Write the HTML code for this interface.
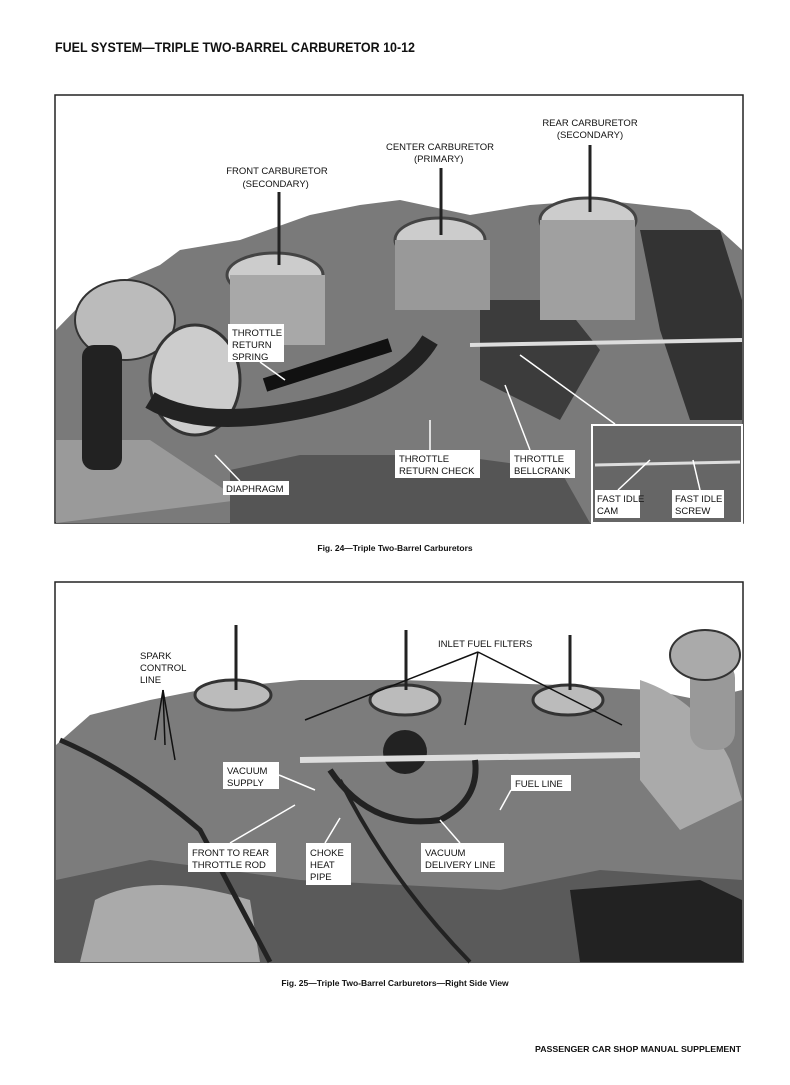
<!DOCTYPE html>
<html><head><meta charset="utf-8"><style>
html,body{margin:0;padding:0;background:#fff;}
svg{display:block;}
text{font-family:"Liberation Sans",sans-serif;}
</style></head><body>
<svg width="790" height="1085" viewBox="0 0 790 1085" xmlns="http://www.w3.org/2000/svg">
<rect width="790" height="1085" fill="#fff"/>
<text x="55" y="52" font-size="14" font-weight="bold" fill="#111" textLength="360" lengthAdjust="spacingAndGlyphs">FUEL SYSTEM—TRIPLE TWO-BARREL CARBURETOR 10-12</text>

<!-- PHOTO 1 -->
<rect x="55" y="95" width="688" height="428" fill="#fff" stroke="#222" stroke-width="1.5"/>
<g>
<path d="M56 330 L90 295 L160 265 L180 250 L240 240 L310 215 L360 205 L400 200 L470 215 L530 205 L600 200 L690 210 L720 230 L742 250 L742 523 L56 523 Z" fill="#7a7a7a"/>
<path d="M56 440 L150 440 L240 500 L56 523 Z" fill="#9a9a9a"/>
<path d="M230 470 L300 455 L450 455 L560 470 L590 523 L230 523 Z" fill="#555"/>
<path d="M480 300 L560 300 L600 350 L560 420 L480 380 Z" fill="#3c3c3c"/>
<path d="M640 230 L720 230 L742 300 L742 420 L690 420 L660 330 Z" fill="#333"/>
<ellipse cx="125" cy="320" rx="50" ry="40" fill="#bbb" stroke="#333" stroke-width="2"/>
<rect x="82" y="345" width="40" height="125" rx="12" fill="#222"/>
<ellipse cx="195" cy="380" rx="45" ry="55" fill="#ccc" stroke="#333" stroke-width="3"/>
<path d="M150 400 Q200 430 300 410 Q400 390 430 340" fill="none" stroke="#222" stroke-width="18"/>
<path d="M265 385 L390 345" stroke="#111" stroke-width="14"/>
<ellipse cx="275" cy="275" rx="48" ry="22" fill="#ccc" stroke="#444" stroke-width="3"/>
<rect x="230" y="275" width="95" height="70" fill="#a8a8a8"/>
<ellipse cx="440" cy="240" rx="45" ry="22" fill="#ccc" stroke="#444" stroke-width="3"/>
<rect x="395" y="240" width="95" height="70" fill="#999"/>
<ellipse cx="588" cy="220" rx="48" ry="22" fill="#ccc" stroke="#444" stroke-width="3"/>
<rect x="540" y="220" width="95" height="100" fill="#a0a0a0"/>
<line x1="279" y1="192" x2="279" y2="265" stroke="#222" stroke-width="3"/>
<line x1="441" y1="168" x2="441" y2="235" stroke="#222" stroke-width="3"/>
<line x1="590" y1="145" x2="590" y2="212" stroke="#222" stroke-width="3"/>
<line x1="470" y1="345" x2="742" y2="340" stroke="#ddd" stroke-width="4"/>
<g stroke="#fff" stroke-width="1.5" fill="none">
<line x1="260" y1="362" x2="285" y2="380"/>
<line x1="430" y1="450" x2="430" y2="420"/>
<line x1="530" y1="450" x2="505" y2="385"/>
<line x1="615" y1="424" x2="520" y2="355"/>
<line x1="240" y1="481" x2="215" y2="455"/>
</g>
</g>
<rect x="592" y="425" width="150" height="98" fill="#666" stroke="#fff" stroke-width="2"/>
<line x1="595" y1="465" x2="740" y2="462" stroke="#ddd" stroke-width="3"/>
<line x1="618" y1="490" x2="650" y2="460" stroke="#fff" stroke-width="1.5"/>
<line x1="700" y1="490" x2="693" y2="460" stroke="#fff" stroke-width="1.5"/>

<text font-size="9.5" fill="#111" text-anchor="middle">
<tspan x="277" y="174">FRONT CARBURETOR</tspan><tspan x="277" y="187">(SECONDARY)</tspan>
<tspan x="440" y="150">CENTER CARBURETOR</tspan><tspan x="440" y="162">(PRIMARY)</tspan>
<tspan x="590" y="126">REAR CARBURETOR</tspan><tspan x="590" y="138">(SECONDARY)</tspan>
</text>
<g font-size="9.5" fill="#111">
<rect x="228" y="324" width="56" height="38" fill="#fff"/>
<text x="232" y="336">THROTTLE</text><text x="232" y="348">RETURN</text><text x="232" y="360">SPRING</text>
<rect x="395" y="450" width="85" height="28" fill="#fff"/>
<text x="399" y="462">THROTTLE</text><text x="399" y="474">RETURN CHECK</text>
<rect x="510" y="450" width="65" height="28" fill="#fff"/>
<text x="514" y="462">THROTTLE</text><text x="514" y="474">BELLCRANK</text>
<rect x="223" y="481" width="66" height="14" fill="#fff"/>
<text x="226" y="492">DIAPHRAGM</text>
<rect x="595" y="490" width="45" height="28" fill="#fff"/>
<text x="597" y="502">FAST IDLE</text><text x="597" y="514">CAM</text>
<rect x="672" y="490" width="52" height="28" fill="#fff"/>
<text x="675" y="502">FAST IDLE</text><text x="675" y="514">SCREW</text>
</g>
<text x="395" y="551" font-size="8.5" font-weight="bold" fill="#111" text-anchor="middle">Fig. 24—Triple Two-Barrel Carburetors</text>

<!-- PHOTO 2 -->
<rect x="55" y="582" width="688" height="380" fill="#fff" stroke="#222" stroke-width="1.5"/>
<path d="M56 745 L90 715 L150 700 L200 690 L300 680 L400 680 L560 685 L650 690 L700 700 L742 690 L742 962 L56 962 Z" fill="#7c7c7c"/>
<path d="M56 880 L150 860 L300 880 L500 890 L600 870 L742 880 L742 962 L56 962 Z" fill="#5a5a5a"/>
<path d="M95 900 Q150 870 250 900 L260 962 L80 962 Z" fill="#aaa"/>
<path d="M570 890 L700 880 L742 900 L742 962 L580 962 Z" fill="#222"/>
<path d="M640 680 Q700 700 730 760 L742 800 L680 830 L640 780 Z" fill="#aaa"/>
<rect x="690" y="660" width="45" height="90" rx="18" fill="#999"/>
<ellipse cx="705" cy="655" rx="35" ry="25" fill="#aaa" stroke="#333" stroke-width="2"/>
<ellipse cx="233" cy="695" rx="38" ry="15" fill="#bbb" stroke="#333" stroke-width="3"/>
<ellipse cx="405" cy="700" rx="35" ry="15" fill="#bbb" stroke="#333" stroke-width="3"/>
<ellipse cx="568" cy="700" rx="35" ry="15" fill="#bbb" stroke="#333" stroke-width="3"/>
<circle cx="405" cy="752" r="22" fill="#222"/>
<line x1="236" y1="625" x2="236" y2="690" stroke="#222" stroke-width="3"/>
<line x1="406" y1="630" x2="406" y2="690" stroke="#222" stroke-width="3"/>
<line x1="570" y1="635" x2="570" y2="690" stroke="#222" stroke-width="3"/>
<path d="M300 760 L640 755" stroke="#ddd" stroke-width="6"/>
<path d="M330 770 Q370 830 440 820 Q480 800 475 760" fill="none" stroke="#222" stroke-width="6"/>
<path d="M60 740 Q130 770 200 830 L270 962" fill="none" stroke="#222" stroke-width="5"/>
<path d="M340 780 Q390 880 470 962" fill="none" stroke="#222" stroke-width="4"/>
<g stroke="#111" stroke-width="1.5" fill="none">
<line x1="163" y1="690" x2="165" y2="745"/><line x1="163" y1="690" x2="175" y2="760"/><line x1="163" y1="690" x2="155" y2="740"/>
<line x1="478" y1="652" x2="305" y2="720"/><line x1="478" y1="652" x2="465" y2="725"/><line x1="478" y1="652" x2="622" y2="725"/>
</g>
<g stroke="#fff" stroke-width="1.5"><line x1="279" y1="775" x2="315" y2="790"/><line x1="511" y1="790" x2="500" y2="810"/><line x1="230" y1="843" x2="295" y2="805"/><line x1="325" y1="843" x2="340" y2="818"/><line x1="460" y1="843" x2="440" y2="820"/></g>
<g font-size="9.5" fill="#111">
<text x="140" y="659">SPARK</text><text x="140" y="671">CONTROL</text><text x="140" y="683">LINE</text>
<text x="438" y="647">INLET FUEL FILTERS</text>
<rect x="223" y="762" width="56" height="27" fill="#fff"/>
<text x="227" y="774">VACUUM</text><text x="227" y="786">SUPPLY</text>
<rect x="511" y="775" width="60" height="16" fill="#fff"/>
<text x="515" y="787">FUEL LINE</text>
<rect x="188" y="843" width="88" height="29" fill="#fff"/>
<text x="192" y="856">FRONT TO REAR</text><text x="192" y="868">THROTTLE ROD</text>
<rect x="306" y="843" width="45" height="42" fill="#fff"/>
<text x="310" y="856">CHOKE</text><text x="310" y="868">HEAT</text><text x="310" y="880">PIPE</text>
<rect x="421" y="843" width="83" height="29" fill="#fff"/>
<text x="425" y="856">VACUUM</text><text x="425" y="868">DELIVERY LINE</text>
</g>
<text x="395" y="986" font-size="8.5" font-weight="bold" fill="#111" text-anchor="middle">Fig. 25—Triple Two-Barrel Carburetors—Right Side View</text>
<text x="741" y="1052" font-size="8.5" font-weight="bold" fill="#111" text-anchor="end" textLength="206" lengthAdjust="spacingAndGlyphs">PASSENGER CAR SHOP MANUAL SUPPLEMENT</text>
</svg>
</body></html>
